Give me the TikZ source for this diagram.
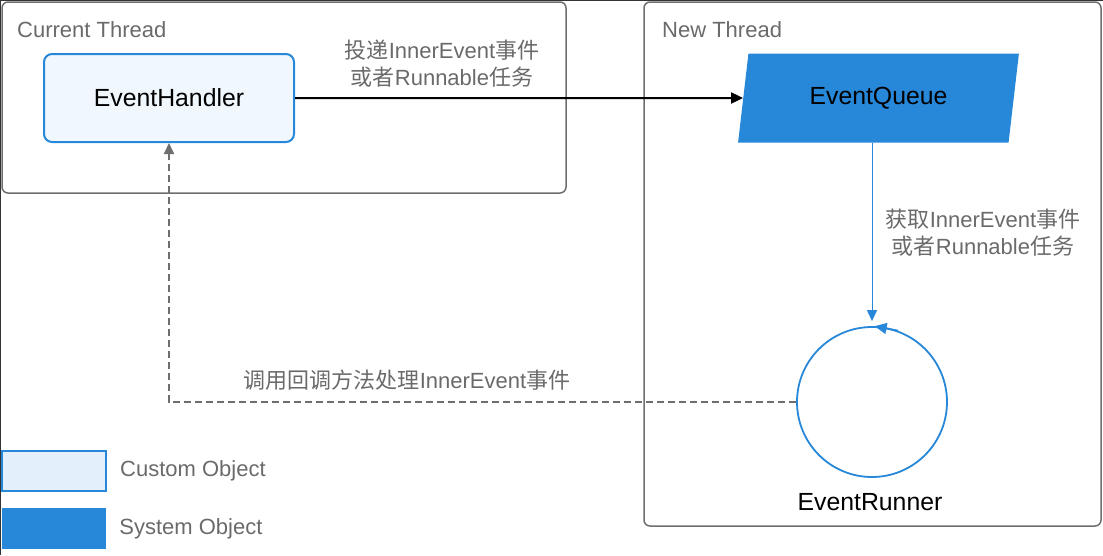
\documentclass[tikz,border=0pt]{standalone}
\usepackage{fontspec}
\setmainfont{Liberation Sans}
\newfontfamily\cjk{Noto Sans CJK SC}
\newcommand{\zhtxt}[1]{{\cjk #1}}
\usetikzlibrary{arrows.meta,shapes.geometric,positioning}
\definecolor{azul}{HTML}{2787D9}
\definecolor{azulclaro}{HTML}{F0F8FE}
\definecolor{azulley}{HTML}{E3F0FB}
\definecolor{gris}{HTML}{6E6E6E}
\definecolor{grist}{HTML}{6A6A6A}
\tikzset{
	hilo/.style={draw=gris, line width=1.5pt, rounded corners=6pt},
	titulo/.style={anchor=west, inner sep=0pt, text=grist, font=\fontsize{22}{26}\selectfont},
	etiqueta/.style={text=grist, align=center, inner sep=0pt, font=\fontsize{22}{27}\selectfont},
	objeto/.style={font=\fontsize{24.8}{28}\selectfont},
	flecha/.style={black, line width=2pt, -{Triangle[length=12pt,width=11pt]}},
}
\begin{document}
\begin{tikzpicture}[x=1pt,y=-1pt]
		\useasboundingbox (0,0) rectangle (1103,555);
		%marco
		\draw [black!80, line width=1pt] (0,555) -- (0,0) -- (1103,0);
		%%%% HILOS
		\draw [hilo] (2,2) rectangle (566,193);
		\draw [hilo] (644,2) rectangle (1101,526);
		\node[titulo] at (17,30) (actual) {Current Thread};
		\node[titulo] at (662,30) (nuevo) {New Thread};
		%objetos
		\node[objeto, draw=azul, fill=azulclaro, line width=2pt, rounded corners=8pt,
			minimum width=250pt, minimum height=88pt] at (169,98) (handler) {EventHandler};
		\node[objeto, trapezium, trapezium left angle=76, trapezium right angle=104,
			trapezium stretches=true, fill=azul, inner sep=0pt,
			minimum width=281pt, minimum height=89pt] at (878.5,98) (queue) {EventQueue};
		\node[circle, draw=azul, line width=1.8pt, fill=white, inner sep=0pt,
			minimum size=150pt] at (872,402) (runner) {};
		\node[objeto] at (870,502) (runnername) {EventRunner};
		%flechas
		\draw [flecha] (handler) -- (queue);
		\draw [azul, line width=1pt, -{Triangle[length=11pt,width=10pt]}, shorten >=5pt]
			(queue.south -| runner.north) -- (runner.north);
		\draw [azul, line width=1.8pt, -{Triangle[length=12pt,width=11pt]}] (runner.70) -- (runner.88);
		\draw [gris, line width=2pt, dash pattern=on 7pt off 4pt, -{Triangle[length=11pt,width=10pt]}]
			(runner.west) -- (handler.south |- runner.west) -- (handler.south);
		%textos
		\node[etiqueta] at (442,63.5) (envio) {\zhtxt{投递}InnerEvent\zhtxt{事件}\\\zhtxt{或者}Runnable\zhtxt{任务}};
		\node[etiqueta] at (983,233) (toma) {\zhtxt{获取}InnerEvent\zhtxt{事件}\\\zhtxt{或者}Runnable\zhtxt{任务}};
		\node[etiqueta] at (407,380) (llamada) {\zhtxt{调用回调方法处理}InnerEvent\zhtxt{事件}};
		%leyenda
		\node[draw=azul, fill=azulley, line width=2pt, inner sep=0pt,
			minimum width=104pt, minimum height=40pt] at (54,471) (custom) {};
		\node[titulo, right=13pt of custom] (customtxt) {Custom Object};
		\node[fill=azul, inner sep=0pt, minimum width=104pt, minimum height=41pt] at (54,528.5) (system) {};
		\node[titulo, right=13pt of system] (systemtxt) {System Object};
\end{tikzpicture}
\end{document}
